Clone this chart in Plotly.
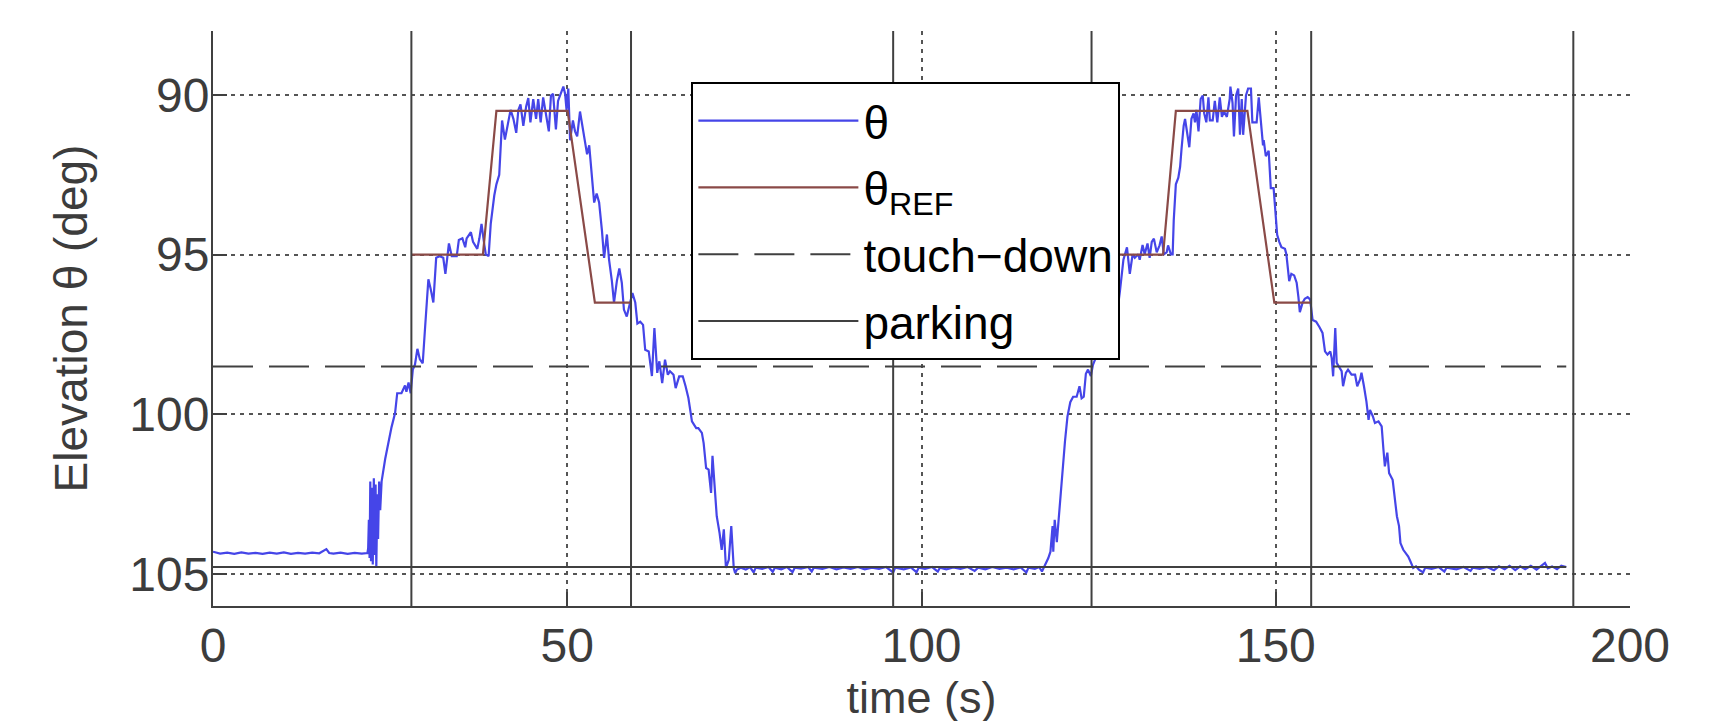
import plotly.graph_objects as go

# ---------------- data ----------------
t_theta = [
    0, 1, 2, 3, 4, 5, 6, 7, 8, 9, 10, 11, 12, 13, 14, 15, 16, 16.4, 17, 18, 19, 20, 21, 21.8,
    21.9, 22.0, 22.1, 22.2, 22.3, 22.45, 22.55, 22.7, 22.8, 22.95, 23.05, 23.2, 23.3, 23.45, 23.6, 23.8,
    24.3, 24.75, 25.2, 25.7, 26.0, 26.6, 27.1, 27.3, 27.6, 27.9, 28.2, 28.5, 28.85, 29.2, 29.6, 29.9,
    30.4, 30.7, 31.1, 31.5, 32.0, 32.5, 32.8, 33.3, 33.7, 34.4, 34.7, 35.2, 35.6, 35.8, 36.4, 36.7,
    37.1, 37.3, 37.6, 37.9, 38.3, 38.5, 38.9, 39.2, 39.7, 40.0, 40.4, 40.65, 40.8, 41.2, 41.7,
    42.0, 42.4, 42.8, 43.1, 43.4, 43.8, 44.2, 44.5, 44.8, 45.2, 45.6, 45.9, 46.25, 46.6, 47.0, 47.4,
    47.7, 48.0, 48.4, 48.7, 49.45, 49.7, 49.9, 50.15, 50.4, 50.8, 51.1, 51.4, 51.8, 52.2, 52.5, 52.8,
    53.1, 53.4, 53.8, 54.15, 54.5, 54.9, 55.2, 55.6, 55.9, 56.3, 56.6, 57.0, 57.35, 57.7, 58.0, 58.4,
    58.8, 59.2, 59.6, 59.9, 60.3, 60.7, 61.0, 61.5, 61.95, 62.3, 62.7, 63.0, 63.4, 63.8, 64.2, 64.5,
    65.0, 65.3, 65.8, 66.3, 66.7, 67.1, 67.6, 68.2, 68.5, 69.0, 69.25, 69.6, 69.95, 70.3, 70.5, 70.9,
    71.1, 71.5, 71.8, 72.1, 72.4, 72.8, 73.15, 73.5, 73.7, 73.95,
    74.5, 75.2, 75.8, 76.3, 76.6, 77.5, 78.4, 79.0, 79.3, 80.2, 81.0, 81.8, 82.1, 83.0, 84.0, 84.5,
    84.8, 86.0, 87.0, 88.0, 89.0, 90.0, 91.0, 92.0, 93.0, 94.0, 95.0, 96.0, 96.3, 97.5, 98.5, 99.3,
    99.6, 100.5, 101.5, 102.3, 102.6, 103.5, 104.5, 105.5, 106.5, 107.5, 108.0, 109.0, 110.0, 111.0,
    112.0, 113.0, 114.0, 114.8, 115.1, 116.0, 116.6, 117.0, 117.4,
    117.9, 118.2, 118.5, 118.6, 118.8, 119.1, 119.3, 119.5, 119.9, 120.25, 120.6, 121.0, 121.4, 121.9,
    122.3, 122.6, 122.9, 123.2, 123.5, 123.9, 124.2, 124.5, 125.2, 125.8, 126.5, 127.2, 127.8, 128.0,
    128.5, 129.0, 129.4, 129.8, 130.1, 130.6, 130.8, 131.2, 131.5, 131.9, 132.2, 132.5, 132.8, 133.2,
    133.6, 133.9, 134.2, 134.6, 134.8, 135.2, 135.45, 135.6, 135.9, 136.25, 136.5, 136.7, 137.0, 137.2,
    137.5, 137.8, 138.1, 138.4, 138.6, 138.8, 139.1, 139.4, 139.7, 139.9, 140.2, 140.5, 140.7, 141.1,
    141.4, 141.75, 142.1, 142.4, 142.7, 143.1, 143.5, 143.6, 143.9, 144.1, 144.4, 144.7, 144.95, 145.2,
    145.4, 145.8, 146.1, 146.5, 146.7, 147.3, 147.6, 147.9, 148.2, 148.3, 148.6, 149.0, 149.3, 149.7,
    149.9, 150.2, 150.5, 150.8, 151.3, 151.5, 151.9, 152.2, 152.6, 152.95, 153.2, 153.4, 153.8, 154.1,
    154.5, 154.85, 155.2, 155.7, 156.2, 156.6, 156.95, 157.3, 157.7, 157.9, 158.1, 158.4, 158.6, 159.0,
    159.3, 159.5, 159.9, 160.2, 160.7, 161.2, 161.5, 161.9, 162.1, 162.45, 162.8, 163.1, 163.3, 163.7,
    164.0, 164.5, 164.95, 165.2, 165.4, 165.75, 166.0, 166.5, 166.8, 167.1, 167.4, 167.6, 168.0, 168.4,
    168.7, 169.0, 169.4, 169.8, 170.2, 170.8, 171.1, 172.0, 173.0, 173.8, 174.1, 175.5, 176.5, 177.5,
    177.8, 178.8, 179.8, 180.8, 181.5, 182.3, 183.0, 183.8, 184.5, 185.2, 186.0, 186.8, 187.5, 188.0,
    188.4, 189.0, 189.7, 190.3, 191.0,
]
theta = [
    104.30, 104.36, 104.33, 104.37, 104.32, 104.36, 104.34, 104.37, 104.33, 104.36, 104.32, 104.37,
    104.34, 104.36, 104.33, 104.35, 104.22, 104.34, 104.36, 104.33, 104.37, 104.34, 104.36, 104.34,
    104.2, 103.3, 104.5, 102.1, 104.6, 102.3, 104.7, 102.0, 104.4, 102.2, 104.8, 102.5, 103.9, 102.1, 103.0, 102.1,
    101.4, 100.85, 100.4, 99.96, 99.34, 99.34, 99.1, 99.29, 99.0, 99.34, 98.6, 98.45, 97.95, 98.28, 98.4, 97.4,
    95.77, 96.05, 96.5, 95.1, 95.05, 95.1, 95.6, 94.65, 95.05, 95.05, 94.54, 94.49, 94.77, 94.49, 94.3, 94.6,
    94.77, 94.82, 94.49, 94.04, 94.7, 94.99, 95.05, 94.04, 93.15, 92.8, 92.5, 91.14, 90.8, 91.4, 90.86,
    90.47, 90.75, 91.19, 90.47, 90.3, 90.97, 90.36, 90.1, 90.86, 90.13, 90.75, 90.13, 90.86, 90.08, 90.58, 91.14,
    90.02, 89.97, 91.08, 90.19, 89.74, 89.97, 90.47, 89.8, 91.42, 90.8, 91.14, 91.3, 90.52, 91.08, 91.53, 91.86,
    91.58, 92.25, 93.37, 93.09, 93.37, 94.26, 95.1, 94.37, 95.16, 95.83, 96.5, 95.83, 95.43, 95.88, 96.72, 96.94,
    96.6, 96.2, 96.5, 97.16, 97.1, 97.2, 97.98, 98.03, 98.8, 97.3, 98.7, 98.34, 99.02, 98.29, 98.76, 98.65,
    98.76, 99.18, 98.81, 98.81, 99.12, 99.49, 100.22, 100.43, 100.43, 100.58, 100.9, 101.68, 101.73, 102.46, 101.3, 102.46,
    103.19, 103.72, 104.24, 103.6, 104.81, 104.55, 103.5, 104.81, 104.97, 104.86,
    104.8, 104.86, 104.78, 104.95, 104.8, 104.84, 104.78, 104.93, 104.8, 104.85, 104.78, 104.94, 104.8, 104.83, 104.78, 104.92,
    104.8, 104.84, 104.78, 104.85, 104.79, 104.84, 104.78, 104.85, 104.8, 104.84, 104.78, 104.95, 104.8, 104.85, 104.79, 104.94,
    104.8, 104.84, 104.78, 104.92, 104.8, 104.85, 104.79, 104.84, 104.78, 104.9, 104.8, 104.85, 104.78, 104.84,
    104.8, 104.85, 104.79, 104.95, 104.8, 104.84, 104.78, 104.92, 104.75,
    104.5, 104.3, 103.5, 104.3, 103.3, 104.0, 103.4, 102.8, 101.74, 100.85, 100.07, 99.62, 99.45, 99.45,
    99.12, 99.5, 99.45, 98.73, 98.6, 98.8, 98.45, 98.3, 97.9, 97.2, 96.9, 97.0, 96.5, 96.16,
    95.16, 94.77, 95.6, 94.99, 95.1, 94.99, 95.16, 94.7, 94.99, 94.65, 95.1, 94.6, 94.5, 94.93,
    94.71, 94.43, 94.99, 94.93, 94.71, 94.99, 94.99, 93.93, 92.8, 92.59, 92.25, 91.7, 90.97, 90.75,
    91.14, 91.64, 90.75, 90.58, 90.86, 90.47, 91.14, 90.13, 90.02, 90.58, 90.86, 90.08, 90.8, 90.8,
    90.19, 90.86, 90.08, 90.69, 90.52, 90.69, 90.13, 89.74, 90.25, 91.3, 90.02, 89.8, 91.25, 90.13,
    91.25, 90.02, 89.8, 89.8, 90.86, 90.86, 90.08, 90.92, 91.58, 91.42, 91.92, 91.75, 92.92, 92.92,
    93.6, 94.38, 94.6, 94.77, 94.82, 94.99, 95.83, 95.6, 95.65, 95.88, 96.33, 96.8, 96.5, 96.38,
    96.33, 96.4, 97.05, 97.1, 97.28, 97.45, 98.03, 98.13, 98.03, 98.24, 98.81, 97.3, 98.39, 98.55,
    98.65, 99.12, 98.7, 98.6, 98.76, 98.76, 99.12, 98.91, 98.7, 99.12, 99.6, 100.17, 99.86, 100.06,
    100.27, 100.22, 100.38, 101.1, 101.63, 101.2, 101.84, 102.05, 102.57, 103.19, 103.5, 104.03, 104.24, 104.34,
    104.45, 104.6, 104.81, 104.76, 104.86, 104.95, 104.8, 104.84, 104.78, 104.92, 104.8, 104.85, 104.78, 104.9,
    104.8, 104.84, 104.78, 104.88, 104.76, 104.85, 104.74, 104.88, 104.76, 104.85, 104.74, 104.86, 104.72, 104.65,
    104.82, 104.76, 104.85, 104.74, 104.78,
]

ref_t = [28, 38.1, 40.0, 50.05, 53.9, 58.9, None, 124, 134.1, 135.9, 146.0, 149.8, 155.0]
ref_theta = [95, 95, 90.5, 90.5, 96.5, 96.5, None, 95, 95, 90.5, 90.5, 96.5, 96.5]

touchdown_level = 98.5
parking_level = 104.78
parking_times = [28, 59, 96, 124, 155, 192]
level_t_range = [0, 191]

x_range = [0, 200]
y_range = [106, 88]          # reversed axis (90 at top)
x_ticks = [0, 50, 100, 150, 200]
y_ticks = [90, 95, 100, 105]

# ---------------- build traces ----------------
park_x, park_y = list(level_t_range), [parking_level, parking_level]
for tp in parking_times:
    park_x += [None, tp, tp]
    park_y += [None, y_range[0], y_range[1]]

BLUE = "#4545e8"
BROWN = "#8a4a47"
GRAY = "#404040"

fig = go.Figure()
fig.add_trace(go.Scatter(x=t_theta, y=theta, mode="lines", name="θ", legendgroup="a",
                         line=dict(color=BLUE, width=2.2)))
fig.add_trace(go.Scatter(x=ref_t, y=ref_theta, mode="lines", name="θ<sub>REF</sub>", legendgroup="b",
                         line=dict(color=BROWN, width=2.2), connectgaps=False))
fig.add_trace(go.Scatter(x=level_t_range, y=[touchdown_level, touchdown_level], mode="lines",
                         name="touch−down", legendgroup="c",
                         line=dict(color=GRAY, width=2, dash="40px,16px")))
fig.add_trace(go.Scatter(x=park_x, y=park_y, mode="lines", name="parking", legendgroup="d",
                         line=dict(color=GRAY, width=2), connectgaps=False))

axis_common = dict(
    showline=True, linecolor=GRAY, linewidth=2, mirror=False,
    ticks="inside", ticklen=14, tickwidth=2, tickcolor=GRAY,
    showgrid=True, gridcolor="#555555", gridwidth=1.5, griddash="4px,5px",
    zeroline=False, tickfont=dict(size=48, color="#3c3c3c"),
)

# the page body has an 8 px default margin, so margins are reduced by 8 px on left/top
fig.update_layout(
    width=1715, height=721,
    margin=dict(l=205, r=93, t=23, b=123, autoexpand=False),
    paper_bgcolor="white", plot_bgcolor="white",
    font=dict(family="Liberation Sans, Arial, sans-serif", size=46, color="#3c3c3c"),
    xaxis=dict(range=x_range, tickvals=x_ticks, automargin=False,
               title=dict(text="time (s)", standoff=0, font=dict(size=45)),
               ticklabelstandoff=-4, **axis_common),
    yaxis=dict(range=y_range, tickvals=y_ticks, automargin=False,
               title=dict(text="Elevation θ (deg)", standoff=27, font=dict(size=46)),
               ticklabelstandoff=-8, **axis_common),
    legend=dict(x=0.3376, y=0.911, xanchor="left", yanchor="top",
                bgcolor="white", bordercolor="black", borderwidth=2,
                font=dict(size=46, color="black"), itemwidth=160,
                tracegroupgap=4),
    showlegend=True,
)

fig.write_html("out.html")
